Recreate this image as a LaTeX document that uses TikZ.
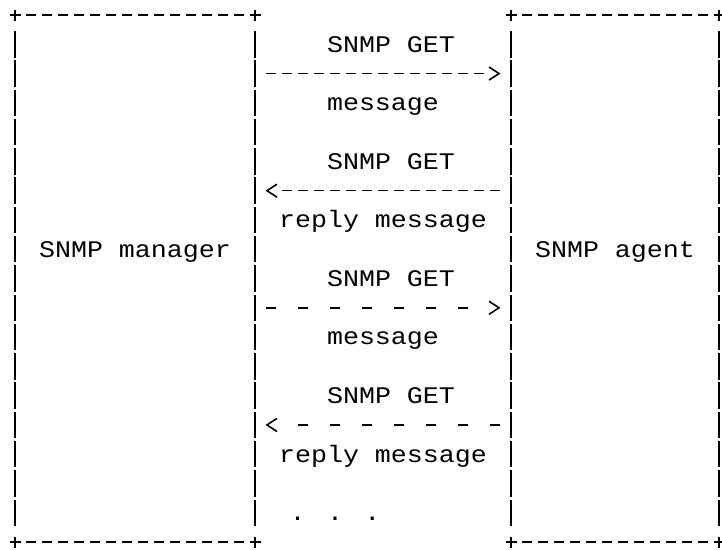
\documentclass[tikz,border=0pt]{standalone}
\usepackage{fontspec}
\newfontfamily\asciifont[FakeStretch=1.12]{Liberation Mono}
\usetikzlibrary{arrows.meta}
\usetikzlibrary{decorations.markings}

\begin{document}
\begin{tikzpicture}[x=16pt,y=-29.28pt]
    % Styles
    \tikzset{
        lbl/.style={font=\asciifont\fontsize{23.8pt}{28pt}\selectfont,anchor=base,inner sep=0pt,yshift=-7.8pt},
        box/.style={minimum height=527.04pt,inner sep=0pt,outer sep=0pt},
        hrule/.style={line width=1.6pt,dash pattern=on 10pt off 6pt,shorten <=11pt,shorten >=11pt},
        vrule/.style={line width=1.6pt,dash pattern=on 26.5pt off 2.78pt,shorten <=16.03pt,shorten >=16.03pt},
        corner/.style={line width=1.6pt},
        msg/.style={line width=1.6pt,dash pattern=on 10pt off 6pt,shorten <=11pt,shorten >=27pt,
            postaction=decorate,
            decoration={markings,mark=at position -10.5pt with {\arrow[line width=1.6pt]{Straight Barb[length=10pt,width=13pt]}}}},
        latemsg/.style={msg,dash pattern=on 10pt off 22pt,shorten >=43pt}
    }
    \useasboundingbox (-0.9375,-0.5123) rectangle (44.1875,18.238);

    % Boxes
    \node[box,minimum width=240pt] (manager) at (7.5,9) {};
    \node[box,minimum width=208pt] (agent) at (37.5,9) {};

    \foreach \b in {manager,agent}{
        \draw[hrule] (\b.north west) -- (\b.north east);
        \draw[hrule] (\b.south west) -- (\b.south east);
        \draw[vrule] (\b.north west) -- (\b.south west);
        \draw[vrule] (\b.north east) -- (\b.south east);
        \foreach \c in {north west,north east,south west,south east}
            \draw[corner] (\b.\c) +(-5.5pt,0) -- +(5.5pt,0) +(0,-5.5pt) -- +(0,5.5pt);
    }

    % Labels
    \node[lbl] (mgrname) at (7.5,8) {SNMP manager};
    \node[lbl] (agtname) at (37.5,8) {SNMP agent};
    \foreach \r in {1,5,9,13}
        \node[lbl] (get\r) at (23.5,\r) {SNMP GET};
    \node[lbl] (msg1) at (23,3) {message};
    \node[lbl] (rep1) at (23,7) {reply message};
    \node[lbl] (msg2) at (23,11) {message};
    \node[lbl] (rep2) at (23,15) {reply message};
    \node[lbl] (more) at (20,17) {. . .};

    % Connection
    \draw[msg] (manager.east |- 0,2) -- (agent.west |- 0,2);
    \draw[msg] (agent.west |- 0,6) -- (manager.east |- 0,6);
    \draw[latemsg] (manager.east |- 0,10) -- (agent.west |- 0,10);
    \draw[latemsg] (agent.west |- 0,14) -- (manager.east |- 0,14);
\end{tikzpicture}
\end{document}
